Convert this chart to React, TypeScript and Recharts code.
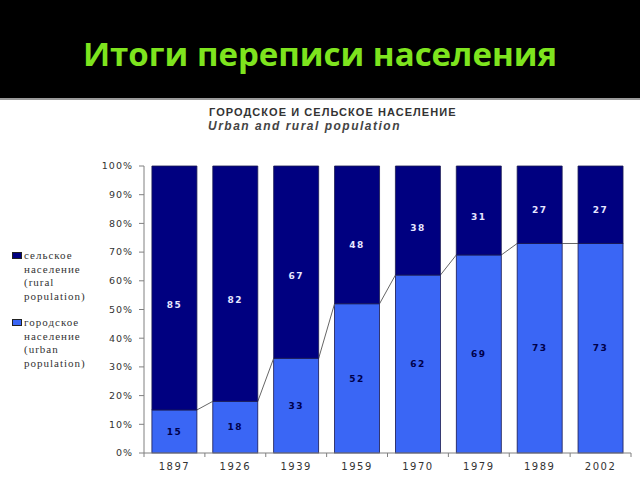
import { BarChart, Bar, XAxis, YAxis, LabelList } from 'recharts';

// census years and shares (%)
const years = ['1897', '1926', '1939', '1959', '1970', '1979', '1989', '2002'];
const urban = [15, 18, 33, 52, 62, 69, 73, 73];
const rural = [85, 82, 67, 48, 38, 31, 27, 27];
const yTicks = [0, 10, 20, 30, 40, 50, 60, 70, 80, 90, 100];

const W = 640;
const H = 480;
const MARGIN = { top: 166, right: 9, bottom: 3, left: 0 };
const Y_AXIS_W = 144;
const PLOT_W = W - MARGIN.left - MARGIN.right - Y_AXIS_W;
const BAND = PLOT_W / years.length;

const RURAL = '#000080';
const URBAN = '#3a66f5';
const TEXT = '#333';
const SANS = '"DejaVu Sans", Verdana, sans-serif';
const SERIF = '"Liberation Serif", "DejaVu Serif", serif';

const data = years.map((year, i) => ({ year, urban: urban[i], rural: rural[i] }));

// urban bar + the thin line joining its top to the previous bar's top
function UrbanShape(props: any) {
    const { x, y, width, height, index } = props;
    let link = null;
    if (index > 0 && urban[index] > 0) {
        const perUnit = height / urban[index];
        const base = y + height;
        const prevTop = base - urban[index - 1] * perUnit;
        const prevRight = x - (BAND - width);
        link = <line x1={prevRight} y1={prevTop} x2={x} y2={y} stroke="#666" strokeWidth={1} />;
    }
    return (
        <g>
            <rect x={x} y={y} width={width} height={height} fill={URBAN} stroke="#1a1a50" strokeWidth={0.8} />
            {link}
        </g>
    );
}

// rural numbers sit a bit below the middle of their segment in the original
function RuralLabel(props: any) {
    const { x, y, width, height, value } = props;
    return (
        <text x={x + width / 2} y={y + height * 0.57} dy={3} textAnchor="middle" fill="#e6e6ff" fontSize={9} fontWeight={700} fontFamily={SANS} letterSpacing={1.5}>
            {value}
        </text>
    );
}

function XTick(props: any) {
    const { x, y, payload, index } = props;
    const left = x - BAND / 2;
    return (
        <g>
            <line x1={left} y1={y - 8} x2={left} y2={y - 4} stroke="#808080" />
            {index === years.length - 1 && <line x1={left + BAND} y1={y - 8} x2={left + BAND} y2={y - 4} stroke="#808080" />}
            <text x={x} y={y + 9} textAnchor="middle" fill={TEXT} fontSize={10} fontFamily={SANS} letterSpacing={1.5}>
                {payload.value}
            </text>
        </g>
    );
}

function LegendItem({ color, lines, top }: { color: string; lines: string[]; top: number }) {
    return (
        <div style={{ position: 'absolute', left: 12, top, fontFamily: SERIF, fontSize: 11, letterSpacing: 1, color: TEXT, lineHeight: '13.7px' }}>
            <span style={{ position: 'absolute', left: 0, top: 3, width: 8, height: 5, background: color, border: '1px solid #222' }} />
            {lines.map((l) => (
                <div key={l} style={{ paddingLeft: 12, whiteSpace: 'nowrap' }}>{l}</div>
            ))}
        </div>
    );
}

export default function App() {
    return (
        <div style={{ position: 'absolute', left: 0, top: 0, width: W, height: H, background: '#fff', overflow: 'hidden' }}>
            <div style={{ position: 'absolute', left: 0, top: 0, width: W, height: 98, background: '#000', borderBottom: '2px solid #999' }} />
            <div style={{ position: 'absolute', left: 0, top: 34, width: W, textAlign: 'center', fontFamily: '"Open Sans", sans-serif', fontWeight: 700, fontSize: 33, color: '#7ee41e', lineHeight: '40px' }}>
                Итоги переписи населения
            </div>
            <div style={{ position: 'absolute', left: 209, top: 105, fontFamily: '"Liberation Sans", Arial, sans-serif', fontWeight: 700, fontSize: 11, letterSpacing: 1.05, color: TEXT, lineHeight: '14px' }}>
                ГОРОДСКОЕ И СЕЛЬСКОЕ НАСЕЛЕНИЕ
            </div>
            <div style={{ position: 'absolute', left: 208, top: 119, fontFamily: '"Liberation Sans", Arial, sans-serif', fontStyle: 'italic', fontWeight: 700, fontSize: 12, letterSpacing: 1.5, color: '#444', lineHeight: '15px' }}>
                Urban and rural population
            </div>
            <LegendItem color={RURAL} top={249} lines={['сельское', 'население', '(rural', 'population)']} />
            <LegendItem color={URBAN} top={316} lines={['городское', 'население', '(urban', 'population)']} />
            <div style={{ position: 'absolute', left: 0, top: 0 }}>
                <BarChart width={W} height={H} data={data} margin={MARGIN} barCategoryGap="13%">
                    <YAxis
                        width={Y_AXIS_W}
                        domain={[0, 100]}
                        ticks={yTicks}
                        interval={0}
                        tickFormatter={(v: number) => `${v}%`}
                        tick={{ fill: TEXT, fontSize: 9.5, fontFamily: SANS, letterSpacing: 1 }}
                        tickSize={5}
                        tickMargin={6}
                        axisLine={{ stroke: '#808080' }}
                        tickLine={{ stroke: '#808080' }}
                    />
                    <XAxis
                        dataKey="year"
                        height={24}
                        interval={0}
                        tick={<XTick />}
                        tickLine={false}
                        axisLine={{ stroke: '#808080' }}
                    />
                    <Bar dataKey="urban" stackId="a" fill={URBAN} shape={<UrbanShape />} isAnimationActive={false}>
                        <LabelList dataKey="urban" position="center" fill="#00004a" fontSize={9} fontWeight={700} fontFamily={SANS} letterSpacing={1.5} />
                    </Bar>
                    <Bar dataKey="rural" stackId="a" fill={RURAL} stroke="#1a1a50" strokeWidth={0.8} isAnimationActive={false}>
                        <LabelList dataKey="rural" content={<RuralLabel />} />
                    </Bar>
                </BarChart>
            </div>
        </div>
    );
}
